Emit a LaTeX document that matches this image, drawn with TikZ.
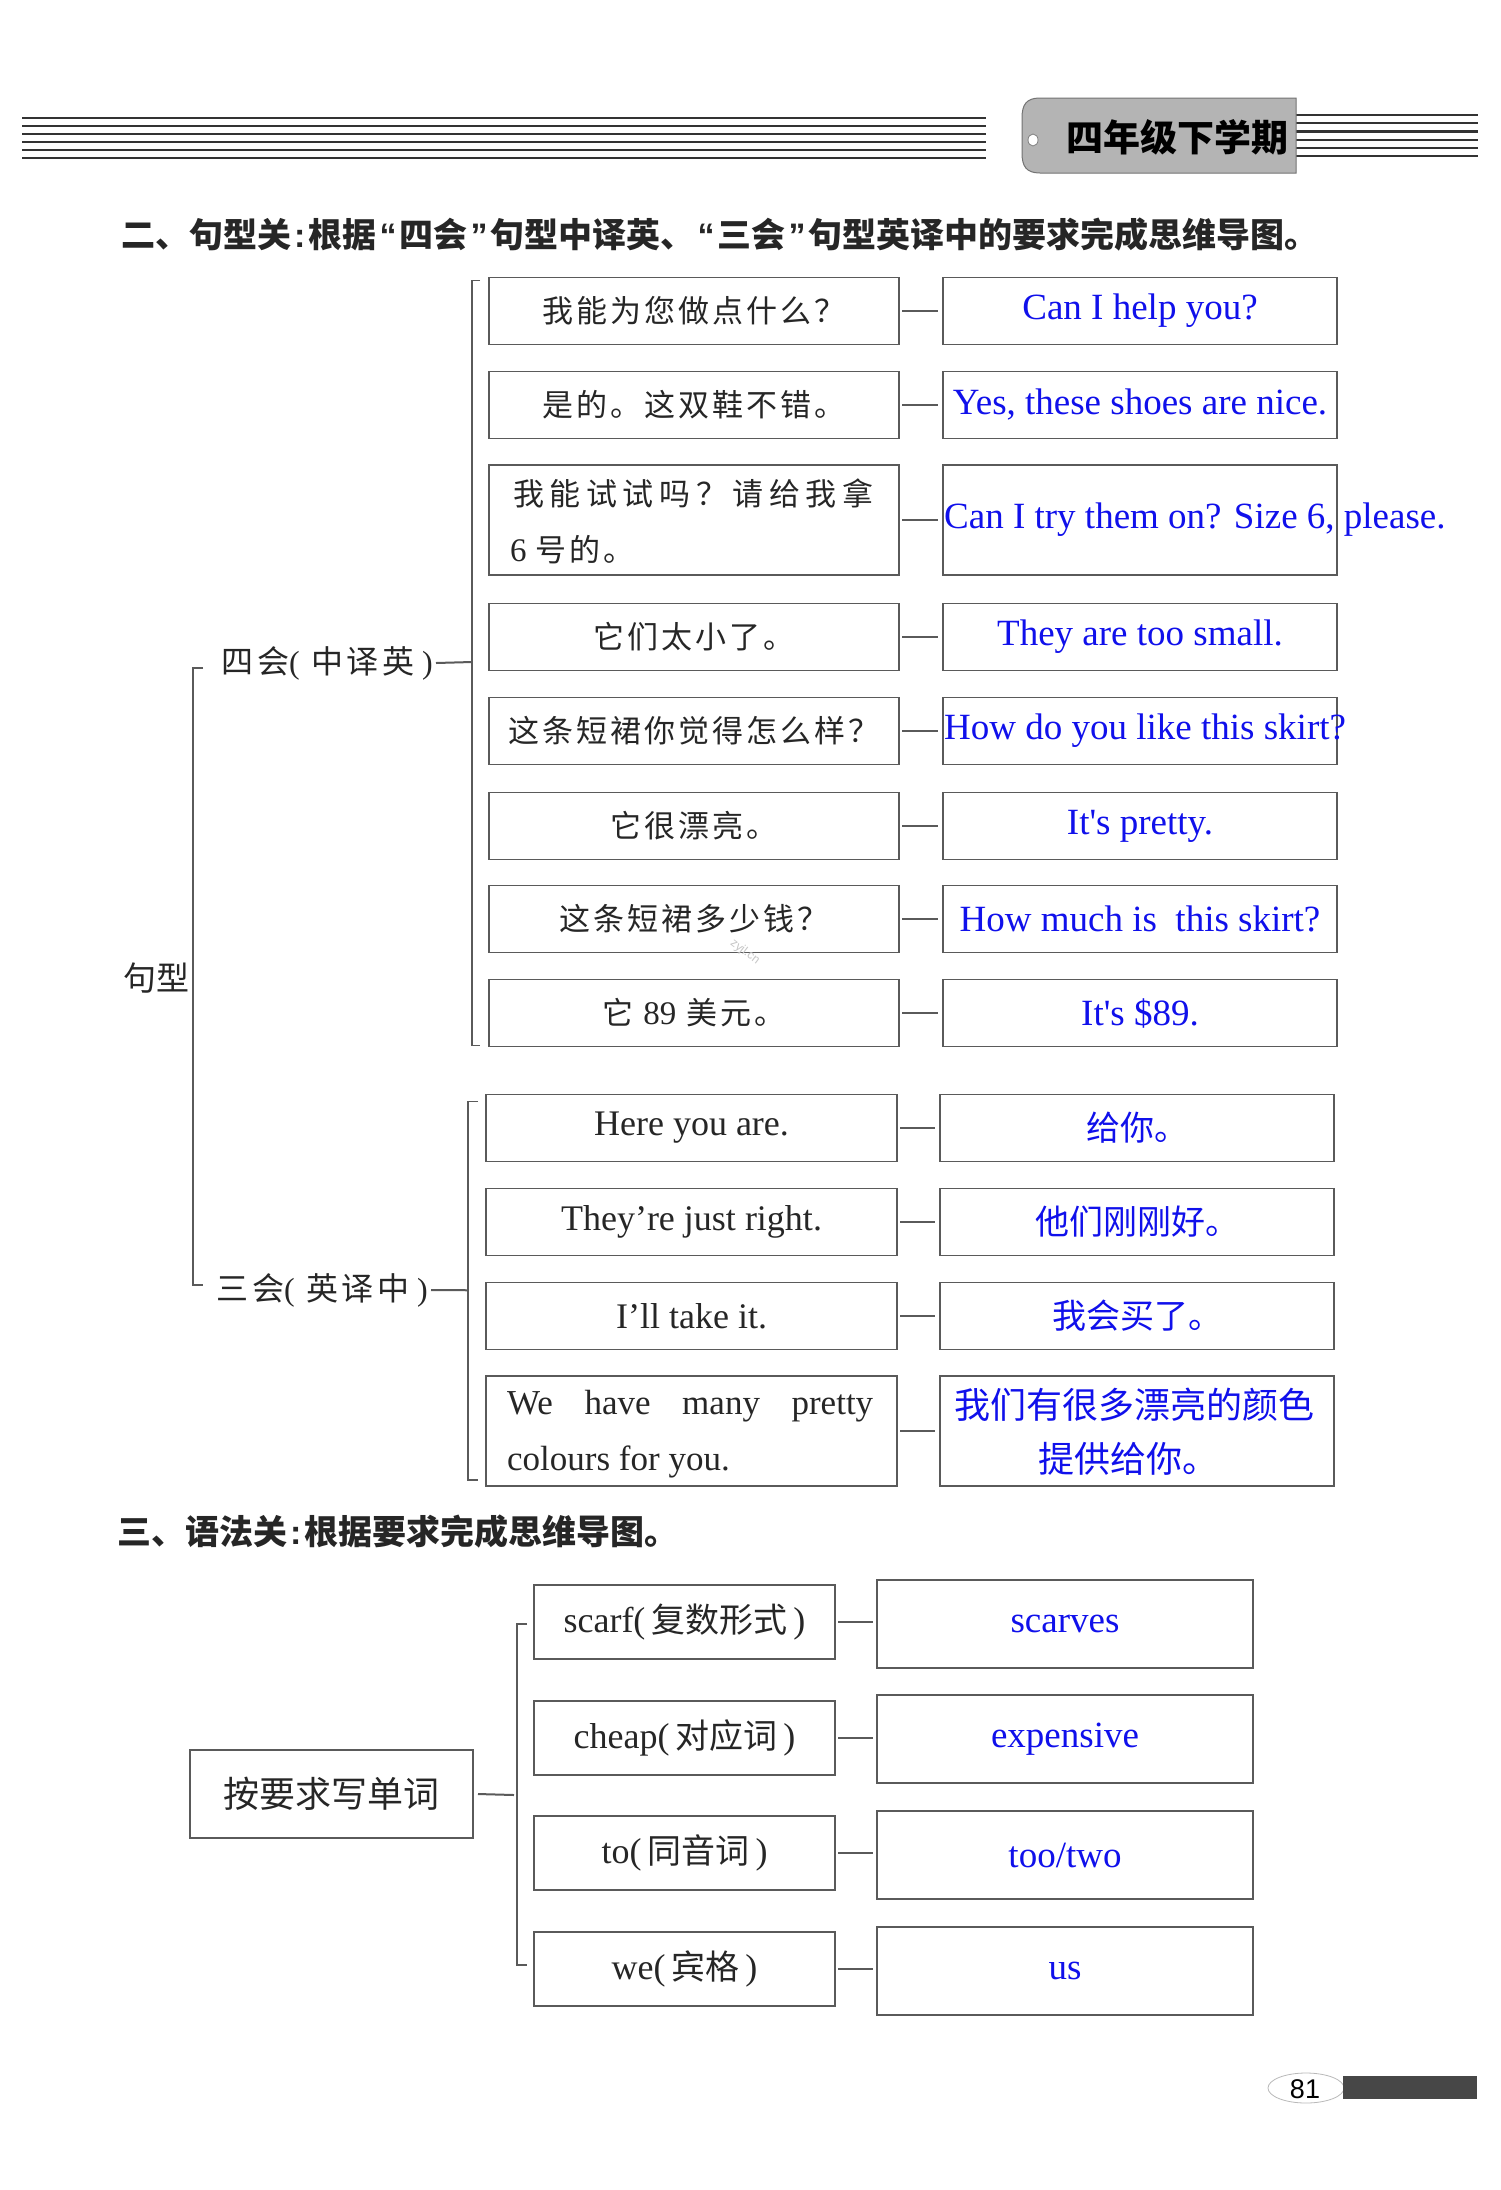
\documentclass[tikz,border=0pt]{standalone}
\usepackage{fontspec}
\setmainfont{Liberation Serif}
\setsansfont{Liberation Sans}
\newfontfamily\cjk{Noto Sans CJK SC}
\newfontfamily\cjkls{Noto Sans CJK SC}[LetterSpace=10]
\newfontfamily\cjkwide{Noto Sans CJK SC}[LetterSpace=18]
\usetikzlibrary{calc}
\definecolor{ansblue}{RGB}{16,16,235}
\definecolor{linegray}{RGB}{90,90,90}
\definecolor{taggray}{RGB}{180,180,180}
\newcommand{\fsz}[1]{\fontsize{#1}{#1}\selectfont}
\newcommand{\nq}[1]{\hspace{3pt}{\sffamily #1}\hspace{3pt}}
\begin{document}
\begin{tikzpicture}[x=1pt,y=-1pt,
  box/.style={draw=linegray, line width=1.5pt, inner sep=0pt, outer sep=0pt, minimum height=67pt, text=black!85},
  lb/.style={box, minimum width=410pt},
  rb/.style={box, minimum width=394pt},
  lbb/.style={box, minimum width=411pt},
  rbb/.style={box, minimum width=394pt},
  mb/.style={box, minimum width=301pt, minimum height=74pt},
  ab/.style={box, minimum width=376pt, minimum height=88pt},
  ans/.style={text=ansblue, font=\fsz{37}},
  anscjk/.style={text=ansblue, font=\cjk\fsz{34}},
  conn/.style={draw=linegray, line width=2pt},
  brk/.style={draw=linegray, line width=1.6pt},
  hline/.style={line width=2.2pt, draw=black!80},
  plain/.style={inner sep=0pt, text=black!85}
]
\fill[white] (0,0) rectangle (1500,2190);
\useasboundingbox (0,0) rectangle (1500,2190);

% header
\foreach \k in {0,...,5} \draw[hline] (22,118+8*\k) -- (986,118+8*\k);
\foreach \k in {0,...,5} \draw[hline] (1296,115+8.2*\k) -- (1478,115+8.2*\k);
\filldraw[fill=taggray, draw=black!55, line width=1pt]
  (1296,98) -- (1040,98) .. controls (1026,98) and (1022,105) .. (1022,118)
  -- (1022,153) .. controls (1022,166) and (1026,173) .. (1040,173) -- (1296,173) -- cycle;
\filldraw[fill=white, draw=black!50, line width=0.8pt] (1033,140) ellipse [x radius=5pt, y radius=6pt];
\node[inner sep=0pt] (tag) at (1177,137) {\cjk\bfseries\fsz{37}四年级下学期};

% section titles
\node[anchor=west, plain] (t2) at (121,235) {\cjk\bfseries\fsz{34}二、句型关\nq{:}根据\nq{“}四会\nq{”}句型中译英、\nq{“}三会\nq{”}句型英译中的要求完成思维导图。};
\node[anchor=west, plain] (t3) at (117,1532) {\cjk\bfseries\fsz{34}三、语法关\nq{:}根据要求完成思维导图。};

% 四会 rows
\node[lb] (L1) at (694,311) {\cjkls\fsz{31}我能为您做点什么？};
\node[rb] (R1) at (1140,311) {}; \node[ans] (R1t) at (R1) {Can I help you?};
\node[lb] (L2) at (694,405) {\cjkls\fsz{31}是的。这双鞋不错。};
\node[rb] (R2) at (1140,405) {}; \node[ans] (R2t) at (R2) {Yes, these shoes are nice.};
\node[lb, minimum height=110pt] (L3) at (694,520) {};
\node[anchor=west, plain, font=\cjkwide\fsz{31}] (L3a) at (513,493) {我能试试吗？请给我拿};
\node[anchor=west, plain] (L3b) at (510,550) {{\rmfamily\fsz{33}6}\hspace{9pt}{\cjkls\fsz{31}号的。}};
\node[rb, minimum height=110pt] (R3) at (1140,520) {};
\node[ans, anchor=west, inner sep=0pt] (R3t) at ([xshift=1pt]R3.west) {Can I try them on? Size 6, please.};
\node[lb] (L4) at (694,637) {\cjkls\fsz{31}它们太小了。};
\node[rb] (R4) at (1140,637) {}; \node[ans] (R4t) at (R4) {They are too small.};
\node[lb] (L5) at (694,731) {\cjkls\fsz{31}这条短裙你觉得怎么样？};
\node[rb] (R5) at (1140,731) {};
\node[ans, anchor=west, inner sep=0pt] (R5t) at ([xshift=1pt]R5.west) {How do you like this skirt?};
\node[lb] (L6) at (694,826) {\cjkls\fsz{31}它很漂亮。};
\node[rb] (R6) at (1140,826) {}; \node[ans] (R6t) at (R6) {It\textquotesingle s pretty.};
\node[lb] (L7) at (694,919) {\cjkls\fsz{31}这条短裙多少钱？};
\node[rb] (R7) at (1140,919) {}; \node[ans] (R7t) at (R7) {How much is\ \ this skirt?};
\node[lb] (L8) at (694,1013) {\cjkls\fsz{31}它 {\rmfamily\fsz{33}89} 美元。};
\node[rb] (R8) at (1140,1013) {}; \node[ans] (R8t) at (R8) {It\textquotesingle s \$89.};

% 三会 rows
\node[lbb] (L9) at (691.5,1128) {\fsz{36}Here you are.};
\node[rbb] (R9) at (1137,1128) {}; \node[anscjk] (R9t) at (R9) {给你。};
\node[lbb] (L10) at (691.5,1222) {\fsz{36}They’re just right.};
\node[rbb] (R10) at (1137,1222) {}; \node[anscjk] (R10t) at (R10) {他们刚刚好。};
\node[lbb] (L11) at (691.5,1316) {\fsz{36}I’ll take it.};
\node[rbb] (R11) at (1137,1316) {}; \node[anscjk] (R11t) at (R11) {我会买了。};
\node[lbb, minimum height=110pt] (L12) at (691.5,1431) {};
\node[anchor=west, plain, font=\fsz{35}] (L12a) at (507,1406) {\hbox to 366pt{We\hfill have\hfill many\hfill pretty}};
\node[anchor=west, plain, font=\fsz{35}] (L12b) at (507,1462) {colours for you.};
\node[rbb, minimum height=110pt] (R12) at (1137,1431) {};
\node[plain, text=ansblue, font=\cjk\fsz{36}] (R12a) at (1134,1405) {我们有很多漂亮的颜色};
\node[plain, text=ansblue, font=\cjk\fsz{36}] (R12b) at (1128,1459) {提供给你。};

% row connectors
\foreach \i in {1,...,12} \draw[conn] ([xshift=3pt]L\i.east) -- ([xshift=-5pt]R\i.west);

% 四会 bracket and label
\draw[brk] ($(L1.north west)+(-9,3)$) -- ++(-8,0) -- ($(L8.south west)+(-17,-1)$) -- ++(8,0);
\coordinate (B4) at ($(L1.north west)!0.5!(L8.south west)+(-17,0)$);
\node[anchor=east, plain] (S4) at (433,663) {\fsz{32}{\cjkls 四会}(\hspace{12pt}{\cjkls 中译英}\hspace{8pt})};
\draw[conn] ([xshift=3pt]S4.east) -- (B4);

% 三会 bracket and label
\draw[brk] ($(L9.north west)+(-8,7)$) -- ++(-10,0) -- ($(L12.south west)+(-18,-6)$) -- ++(10,0);
\coordinate (B3) at ($(L9.north west)!0.5!(L12.south west)+(-18,0)$);
\node[anchor=east, plain] (S3) at (428,1290) {\fsz{32}{\cjkls 三会}(\hspace{12pt}{\cjkls 英译中}\hspace{8pt})};
\draw[conn] ([xshift=3pt]S3.east) -- (B3);

% outer bracket
\coordinate (G1) at (203,668);
\coordinate (G2) at (203,1285);
\draw[brk] (G1) -- ++(-10,0) |- (G2);
\node[anchor=east, plain] (G) at (190,978) {\cjk\fsz{33}句型};

% grammar section
\node[box, minimum width=283pt, minimum height=88pt] (W) at (331.5,1794) {\cjk\fsz{36}按要求写单词};
\node[mb] (M1) at (684.5,1622) {\fsz{36}scarf(\,{\cjk\fsz{34}复数形式}\,)};
\node[mb] (M2) at (684.5,1738) {\fsz{36}cheap(\,{\cjk\fsz{34}对应词}\,)};
\node[mb] (M3) at (684.5,1853) {\fsz{36}to(\,{\cjk\fsz{34}同音词}\,)};
\node[mb] (M4) at (684.5,1969) {\fsz{36}we(\,{\cjk\fsz{34}宾格}\,)};
\node[ab] (A1) at (1065,1624) {}; \node[ans] (A1t) at (A1) {scarves};
\node[ab] (A2) at (1065,1739) {}; \node[ans] (A2t) at (A2) {expensive};
\node[ab] (A3) at (1065,1855) {}; \node[ans] (A3t) at (A3) {too/two};
\node[ab] (A4) at (1065,1971) {}; \node[ans] (A4t) at (A4) {us};
\foreach \i in {1,...,4} \draw[conn] ([xshift=3pt]M\i.east) -- ($(M\i.east -| A\i.west)+(-4,0)$);
\draw[brk] ($(M1.west)+(-7,2)$) -- ++(-10,0) -- ($(M4.west)+(-17,-4)$) -- ++(10,0);
\coordinate (BW) at (514,1795);
\draw[conn] ([xshift=5pt]W.east) -- (BW);

% watermark
\node[rotate=-37, text=gray!45, inner sep=0pt] (wm) at (745,952) {\sffamily\fsz{12}zyjl.cn};

% page number
\draw[gray!55, line width=0.8pt] (1306,2088) ellipse [x radius=38pt, y radius=15pt];
\fill[black!72] (1343,2076) rectangle (1477,2099);
\node[inner sep=0pt] (pg) at (1305,2089) {\sffamily\fsz{27}81};
\end{tikzpicture}
\end{document}
